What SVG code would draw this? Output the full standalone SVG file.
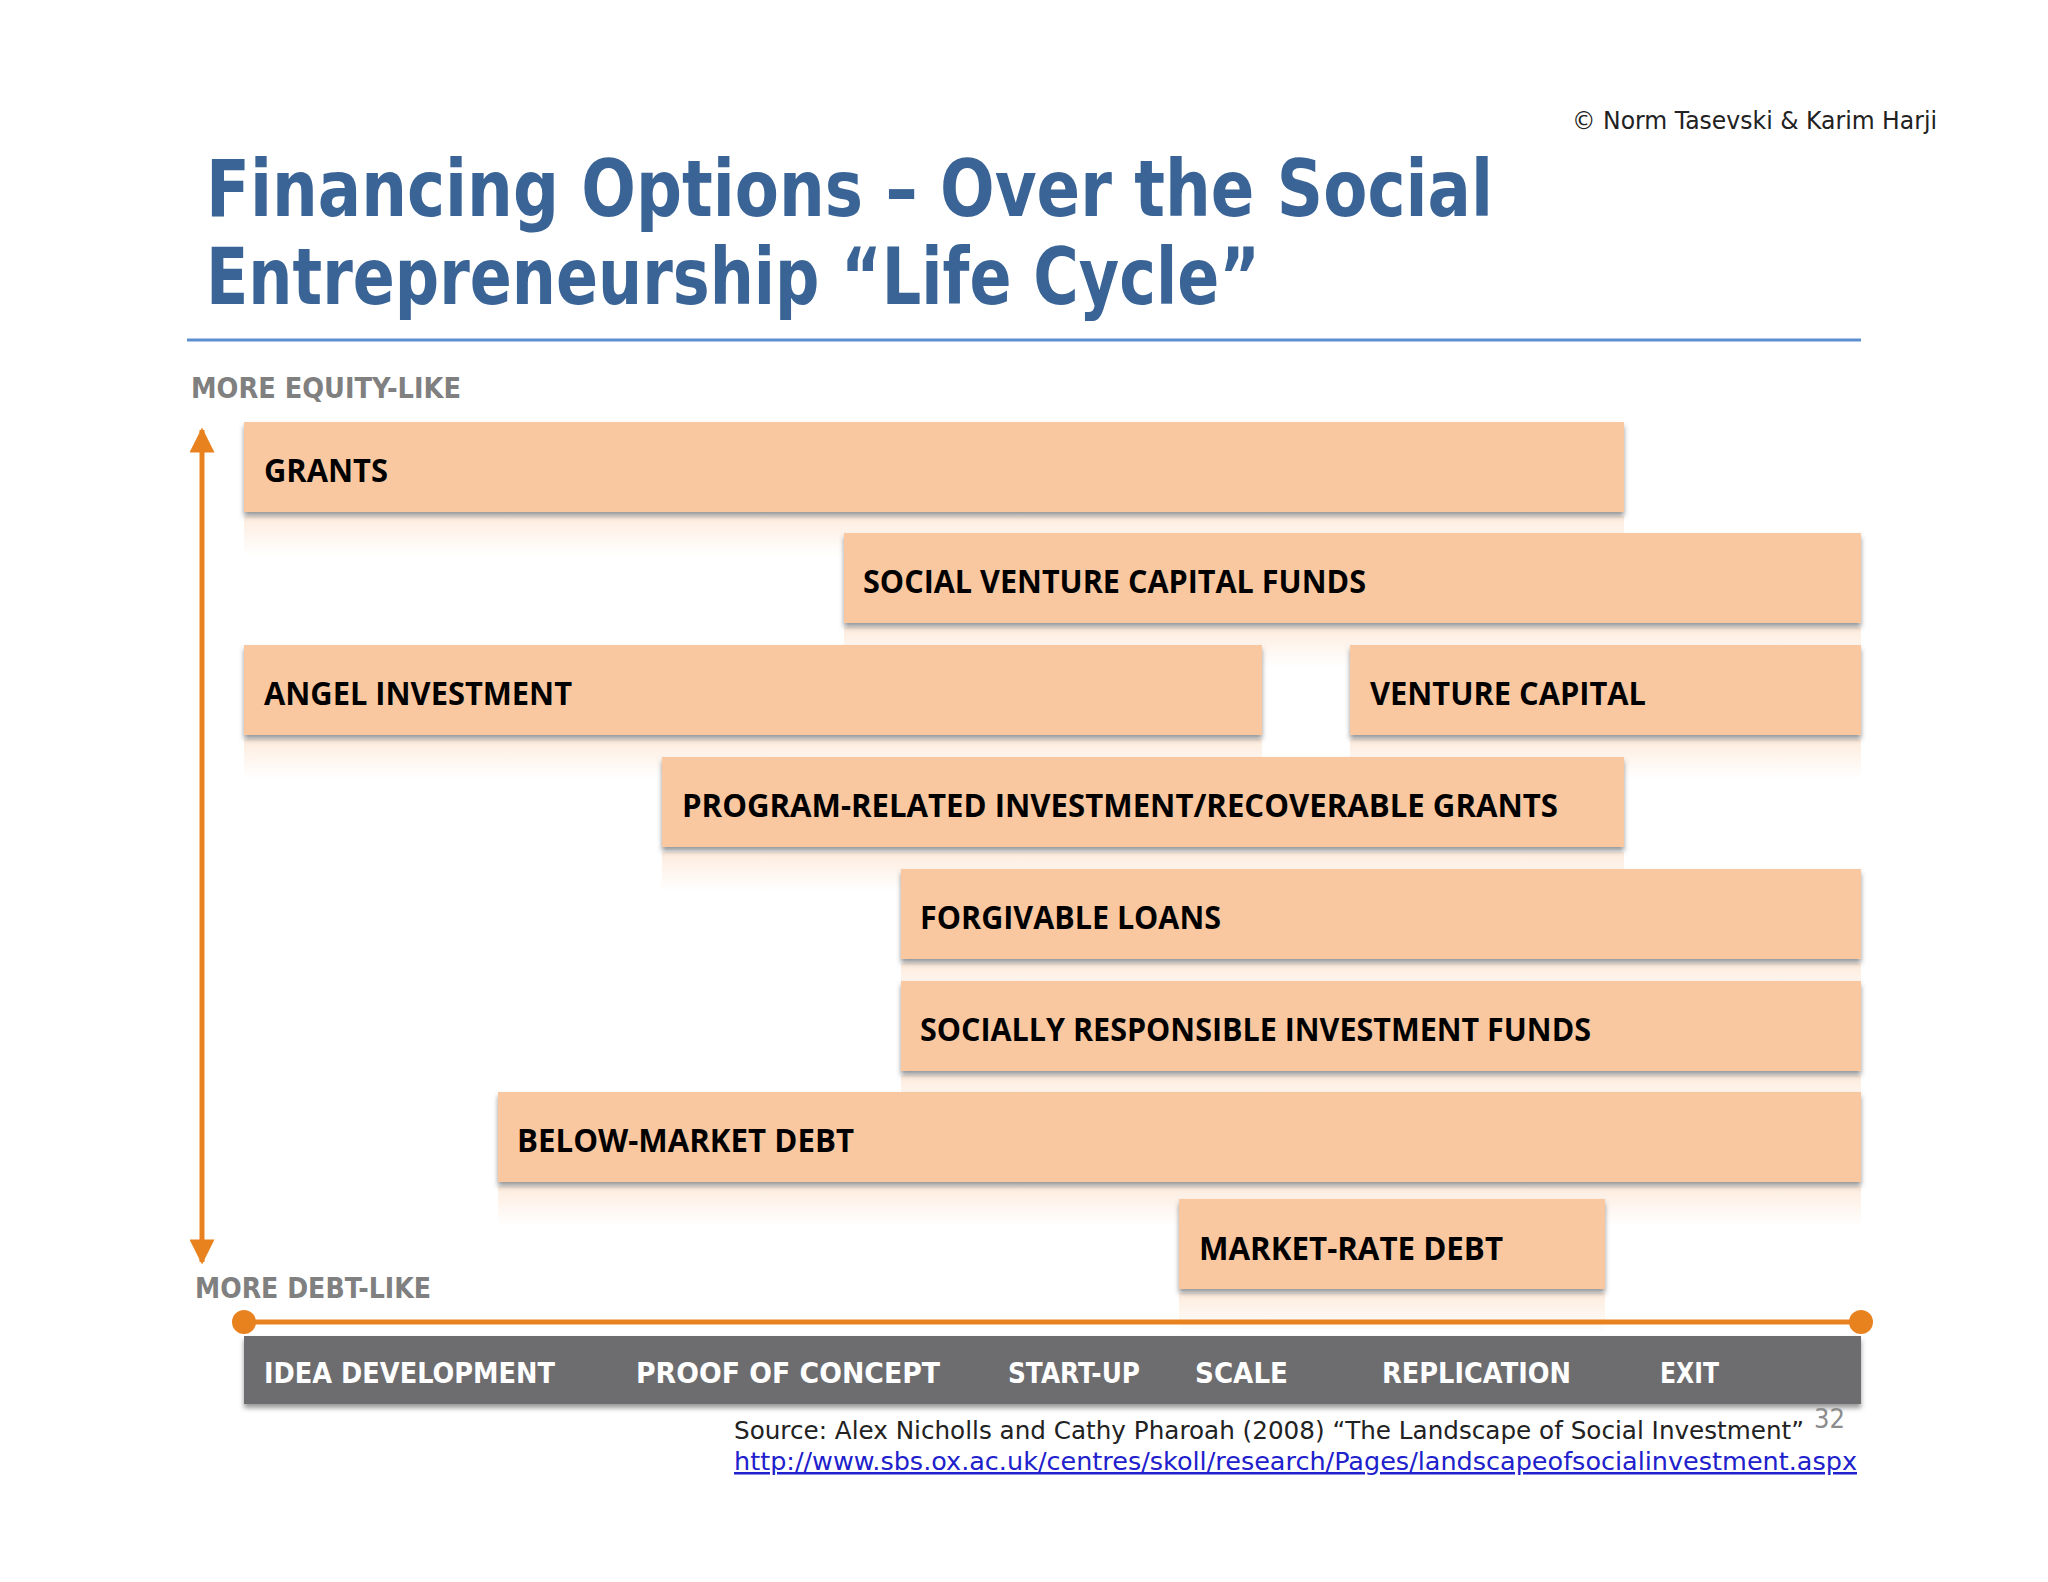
<svg xmlns="http://www.w3.org/2000/svg" width="2048" height="1582" viewBox="0 0 2048 1582">
<defs>
<style>
.box{fill:#FAC8A0;filter:url(#sh)}
.refl{fill:url(#rg)}
.lbl{font-family:"Open Sans","Liberation Sans",sans-serif;font-weight:bold;font-size:33px;fill:#000}
.stage{font-family:"DejaVu Sans","Liberation Sans",sans-serif;font-weight:bold;font-size:29px;fill:#fff}
.axis{font-family:"DejaVu Sans","Liberation Sans",sans-serif;font-weight:bold;font-size:29px;fill:#808080}
.title{font-family:"DejaVu Sans","Liberation Sans",sans-serif;font-weight:bold;font-size:78px;fill:#3A6496}
.small{font-family:"DejaVu Sans","Liberation Sans",sans-serif;font-size:25px;fill:#222}
.pg{font-family:"DejaVu Sans","Liberation Sans",sans-serif;font-size:26px;fill:#8C8C8C}
.url{font-family:"DejaVu Sans","Liberation Sans",sans-serif;font-size:25px;fill:#2020CC;text-decoration:underline}
</style>
<filter id="sh" x="-5%" y="-20%" width="110%" height="160%">
<feDropShadow dx="0" dy="4" stdDeviation="2.5" flood-color="#444" flood-opacity="0.55"/>
</filter>
<linearGradient id="rg" x1="0" y1="0" x2="0" y2="1">
<stop offset="0" stop-color="#FAC8A0" stop-opacity="0.35"/>
<stop offset="1" stop-color="#FAC8A0" stop-opacity="0"/>
</linearGradient>
<marker id="ah" viewBox="0 0 10 10" refX="9" refY="5" markerWidth="5.5" markerHeight="5" orient="auto-start-reverse" markerUnits="strokeWidth">
<path d="M0,0 L10,5 L0,10 z" fill="#E8821E"/>
</marker>
</defs>
<rect width="2048" height="1582" fill="#fff"/>

<g id="header">
<text class="small" x="1937" y="129" text-anchor="end" textLength="365" lengthAdjust="spacingAndGlyphs">© Norm Tasevski &amp; Karim Harji</text>
<text class="title" x="206" y="216" textLength="1287" lengthAdjust="spacingAndGlyphs">Financing Options – Over the Social</text>
<text class="title" x="206" y="304" textLength="1054" lengthAdjust="spacingAndGlyphs">Entrepreneurship “Life Cycle”</text>
<line x1="187" y1="340" x2="1861" y2="340" stroke="#5B8FD0" stroke-width="3"/>
</g>

<g id="axis-labels">
<text class="axis" x="191" y="398" textLength="270" lengthAdjust="spacingAndGlyphs">MORE EQUITY-LIKE</text>
<text class="axis" x="195" y="1298" textLength="236" lengthAdjust="spacingAndGlyphs">MORE DEBT-LIKE</text>
</g>

<g id="reflections">
<rect class="refl" x="244" y="516" width="1380" height="40"/>
<rect class="refl" x="844" y="627" width="1017" height="40"/>
<rect class="refl" x="244" y="739" width="1018" height="40"/>
<rect class="refl" x="1350" y="739" width="511" height="40"/>
<rect class="refl" x="662" y="852" width="962" height="40"/>
<rect class="refl" x="901" y="963" width="960" height="40"/>
<rect class="refl" x="901" y="1075" width="960" height="40"/>
<rect class="refl" x="498" y="1186" width="1363" height="40"/>
<rect class="refl" x="1179" y="1293" width="426" height="40"/>
</g>

<g id="connectors">
<line x1="202" y1="430" x2="202" y2="1262" stroke="#E8821E" stroke-width="5" marker-start="url(#ah)" marker-end="url(#ah)"/>
<line x1="244" y1="1322" x2="1861" y2="1322" stroke="#E8821E" stroke-width="5"/>
<circle cx="244" cy="1322" r="12" fill="#E8821E"/>
<circle cx="1861" cy="1322" r="12" fill="#E8821E"/>
</g>

<g id="grants"><rect class="box" x="244" y="422" width="1380" height="90"/><text class="lbl" x="264" y="482" textLength="124" lengthAdjust="spacingAndGlyphs">GRANTS</text></g>
<g id="svcf"><rect class="box" x="844" y="533" width="1017" height="90"/><text class="lbl" x="863" y="593" textLength="503" lengthAdjust="spacingAndGlyphs">SOCIAL VENTURE CAPITAL FUNDS</text></g>
<g id="angel"><rect class="box" x="244" y="645" width="1018" height="90"/><text class="lbl" x="264" y="705" textLength="308" lengthAdjust="spacingAndGlyphs">ANGEL INVESTMENT</text></g>
<g id="vc"><rect class="box" x="1350" y="645" width="511" height="90"/><text class="lbl" x="1370" y="705" textLength="276" lengthAdjust="spacingAndGlyphs">VENTURE CAPITAL</text></g>
<g id="pri"><rect class="box" x="662" y="757" width="962" height="90"/><text class="lbl" x="682" y="817" textLength="876" lengthAdjust="spacingAndGlyphs">PROGRAM-RELATED INVESTMENT/RECOVERABLE GRANTS</text></g>
<g id="forgivable"><rect class="box" x="901" y="869" width="960" height="90"/><text class="lbl" x="920" y="929" textLength="301" lengthAdjust="spacingAndGlyphs">FORGIVABLE LOANS</text></g>
<g id="sri"><rect class="box" x="901" y="981" width="960" height="90"/><text class="lbl" x="920" y="1041" textLength="671" lengthAdjust="spacingAndGlyphs">SOCIALLY RESPONSIBLE INVESTMENT FUNDS</text></g>
<g id="below"><rect class="box" x="498" y="1092" width="1363" height="90"/><text class="lbl" x="517" y="1152" textLength="337" lengthAdjust="spacingAndGlyphs">BELOW-MARKET DEBT</text></g>
<g id="market"><rect class="box" x="1179" y="1199" width="426" height="90"/><text class="lbl" x="1199" y="1260" textLength="304" lengthAdjust="spacingAndGlyphs">MARKET-RATE DEBT</text></g>

<g id="stages">
<rect x="244" y="1336" width="1617" height="68" fill="#6D6D6F" filter="url(#sh)"/>
<text class="stage" x="264" y="1383" textLength="291" lengthAdjust="spacingAndGlyphs">IDEA DEVELOPMENT</text>
<text class="stage" x="636" y="1383" textLength="304" lengthAdjust="spacingAndGlyphs">PROOF OF CONCEPT</text>
<text class="stage" x="1008" y="1383" textLength="132" lengthAdjust="spacingAndGlyphs">START-UP</text>
<text class="stage" x="1195" y="1383" textLength="93" lengthAdjust="spacingAndGlyphs">SCALE</text>
<text class="stage" x="1382" y="1383" textLength="189" lengthAdjust="spacingAndGlyphs">REPLICATION</text>
<text class="stage" x="1660" y="1383" textLength="59" lengthAdjust="spacingAndGlyphs">EXIT</text>
</g>

<g id="footer">
<text class="small" x="734" y="1439" textLength="1070" lengthAdjust="spacingAndGlyphs">Source: Alex Nicholls and Cathy Pharoah (2008) “The Landscape of Social Investment”</text>
<text class="pg" x="1814" y="1428" textLength="31" lengthAdjust="spacingAndGlyphs">32</text>
<text class="url" x="734" y="1470" textLength="1123" lengthAdjust="spacingAndGlyphs">http://www.sbs.ox.ac.uk/centres/skoll/research/Pages/landscapeofsocialinvestment.aspx</text>
</g>
</svg>
